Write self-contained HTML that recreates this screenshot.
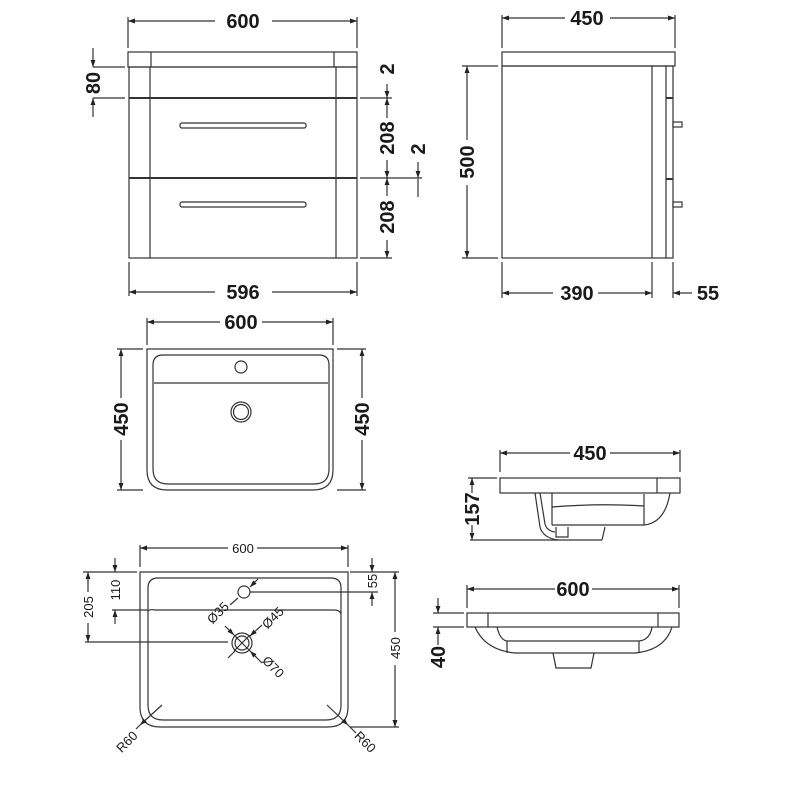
<!DOCTYPE html>
<html><head><meta charset="utf-8"><style>
html,body{margin:0;padding:0;background:#fff;}
svg{display:block;}
text{font-family:"Liberation Sans",Arial,sans-serif;fill:#1a1a1a;}
.b{font-weight:bold;font-size:20px;}
.s{font-size:13px;}
</style></head><body>
<svg width="800" height="800" viewBox="0 0 800 800" xmlns="http://www.w3.org/2000/svg">
<defs>
<marker id="a" viewBox="0 0 10 10" refX="10" refY="5" markerWidth="7" markerHeight="7" orient="auto-start-reverse" markerUnits="userSpaceOnUse"><path d="M0,1.5 L10,5 L0,8.5 z" fill="#222"/></marker>
</defs>
<g stroke="#333" stroke-width="1.2" fill="none">
<!-- ===== TOP FRONT CABINET ===== -->
<rect x="128" y="52" width="229" height="15"/>
<line x1="151" y1="52" x2="151" y2="67"/><line x1="334" y1="52" x2="334" y2="67"/>
<rect x="129" y="67" width="228" height="191"/>
<line x1="150" y1="67" x2="150" y2="258"/><line x1="336" y1="67" x2="336" y2="258"/>
<line x1="129" y1="98" x2="357" y2="98" stroke-width="2"/>
<line x1="129" y1="178" x2="357" y2="178" stroke-width="2"/>
<rect x="180" y="123" width="126" height="5" rx="2"/>
<rect x="180" y="202" width="126" height="5" rx="2"/>
<!-- 600 -->
<line x1="128" y1="17" x2="128" y2="48"/><line x1="357" y1="17" x2="357" y2="48"/>
<line x1="128" y1="21" x2="215" y2="21" marker-start="url(#a)"/>
<line x1="272" y1="21" x2="357" y2="21" marker-end="url(#a)"/>
<!-- 596 -->
<line x1="129" y1="262" x2="129" y2="296"/><line x1="357" y1="262" x2="357" y2="296"/>
<line x1="129" y1="292" x2="215" y2="292" marker-start="url(#a)"/>
<line x1="272" y1="292" x2="357" y2="292" marker-end="url(#a)"/>
<!-- 80 -->
<line x1="93" y1="67" x2="125" y2="67"/><line x1="93" y1="98" x2="125" y2="98"/>
<line x1="93" y1="48" x2="93" y2="67" marker-end="url(#a)"/>
<line x1="93" y1="117" x2="93" y2="98" marker-end="url(#a)"/>
<!-- right dims -->
<line x1="360" y1="98" x2="392" y2="98"/><line x1="360" y1="178" x2="422" y2="178"/><line x1="360" y1="258" x2="392" y2="258"/>
<line x1="387" y1="84" x2="387" y2="98" marker-end="url(#a)"/>
<line x1="387" y1="98" x2="387" y2="118" marker-start="url(#a)"/>
<line x1="387" y1="160" x2="387" y2="178" marker-end="url(#a)"/>
<line x1="387" y1="178" x2="387" y2="196" marker-start="url(#a)"/>
<line x1="387" y1="240" x2="387" y2="258" marker-end="url(#a)"/>
<line x1="418" y1="162" x2="418" y2="178" marker-end="url(#a)"/>
<line x1="418" y1="197" x2="418" y2="179"/>
<!-- ===== TOP SIDE CABINET ===== -->
<rect x="502" y="52" width="173" height="14"/>
<rect x="502" y="66" width="171" height="192"/>
<line x1="652" y1="66" x2="652" y2="258"/><line x1="666" y1="66" x2="666" y2="258"/>
<line x1="666" y1="98" x2="673" y2="98" stroke-width="2"/><line x1="666" y1="179" x2="673" y2="179" stroke-width="2"/>
<rect x="673" y="122" width="9" height="5"/><rect x="673" y="202" width="9" height="5"/>
<line x1="502" y1="15" x2="502" y2="48"/><line x1="675" y1="15" x2="675" y2="48"/>
<line x1="502" y1="18" x2="565" y2="18" marker-start="url(#a)"/>
<line x1="610" y1="18" x2="675" y2="18" marker-end="url(#a)"/>
<line x1="462" y1="66" x2="498" y2="66"/><line x1="462" y1="258" x2="498" y2="258"/>
<line x1="467" y1="66" x2="467" y2="140" marker-start="url(#a)"/>
<line x1="467" y1="185" x2="467" y2="258" marker-end="url(#a)"/>
<line x1="502" y1="262" x2="502" y2="298"/><line x1="652" y1="262" x2="652" y2="298"/><line x1="673" y1="262" x2="673" y2="298"/>
<line x1="502" y1="293" x2="553" y2="293" marker-start="url(#a)"/>
<line x1="598" y1="293" x2="652" y2="293" marker-end="url(#a)"/>
<line x1="692" y1="293" x2="673" y2="293" marker-end="url(#a)"/>
<!-- ===== MIDDLE BASIN TOP VIEW ===== -->
<path d="M147,349 H333 V470 Q333,490 313,490 H167 Q147,490 147,470 Z"/>
<path d="M163,355 H319 Q329,355 329,365 V469 Q329,484 314,484 H168 Q153,484 153,469 V365 Q153,355 163,355 Z"/>
<line x1="154" y1="383" x2="328" y2="383"/>
<circle cx="241" cy="367" r="6"/>
<circle cx="241" cy="412" r="10"/><circle cx="241" cy="412" r="7.5"/>
<line x1="147" y1="318" x2="147" y2="345"/><line x1="333" y1="318" x2="333" y2="345"/>
<line x1="147" y1="322" x2="220" y2="322" marker-start="url(#a)"/>
<line x1="262" y1="322" x2="333" y2="322" marker-end="url(#a)"/>
<line x1="117" y1="349" x2="143" y2="349"/><line x1="117" y1="490" x2="143" y2="490"/>
<line x1="121" y1="349" x2="121" y2="398" marker-start="url(#a)"/>
<line x1="121" y1="440" x2="121" y2="490" marker-end="url(#a)"/>
<line x1="337" y1="349" x2="366" y2="349"/><line x1="337" y1="490" x2="366" y2="490"/>
<line x1="362" y1="349" x2="362" y2="398" marker-start="url(#a)"/>
<line x1="362" y1="440" x2="362" y2="490" marker-end="url(#a)"/>
<!-- ===== SIDE PROFILE 450 ===== -->
<rect x="500" y="478" width="180" height="15"/>
<line x1="657" y1="478" x2="657" y2="493"/>
<path d="M535,493 L540,527 Q543,538 558,540"/>
<path d="M540,493 L545,524 Q547,531 555,532"/>
<line x1="552" y1="493" x2="552" y2="525"/>
<path d="M552,525 H644 Q665,523 670,493"/>
<line x1="644" y1="494" x2="644" y2="525"/>
<path d="M552,507 Q600,503 644,506"/>
<path d="M556,527 V537 H568 V527"/>
<path d="M605,527 L602,540"/>
<line x1="500" y1="450" x2="500" y2="472"/><line x1="680" y1="450" x2="680" y2="472"/>
<line x1="500" y1="453" x2="570" y2="453" marker-start="url(#a)"/>
<line x1="610" y1="453" x2="680" y2="453" marker-end="url(#a)"/>
<line x1="468" y1="478" x2="497" y2="478"/><line x1="470" y1="540" x2="602" y2="540"/>
<line x1="472" y1="478" x2="472" y2="493" marker-start="url(#a)"/>
<line x1="472" y1="525" x2="472" y2="540" marker-end="url(#a)"/>
<!-- ===== FRONT PROFILE 600 ===== -->
<rect x="467" y="613" width="212" height="14"/>
<line x1="488" y1="613" x2="488" y2="627"/><line x1="658" y1="613" x2="658" y2="627"/>
<path d="M475,627 Q485,650 515,653 H635 Q665,650 672,627"/>
<path d="M497,627 Q500,640 507,641 H639 Q650,640 652,627"/>
<line x1="507" y1="641" x2="507" y2="653"/><line x1="639" y1="641" x2="639" y2="653"/>
<path d="M553,653 L556,668 H591 L594,653"/>
<line x1="467" y1="585" x2="467" y2="608"/><line x1="679" y1="585" x2="679" y2="608"/>
<line x1="467" y1="589" x2="555" y2="589" marker-start="url(#a)"/>
<line x1="592" y1="589" x2="679" y2="589" marker-end="url(#a)"/>
<line x1="433" y1="613" x2="464" y2="613"/><line x1="433" y1="627" x2="464" y2="627"/>
<line x1="438" y1="598" x2="438" y2="613" marker-end="url(#a)"/>
<line x1="438" y1="645" x2="438" y2="627" marker-end="url(#a)"/>
<!-- ===== BOTTOM BASIN DETAIL ===== -->
<path d="M140,572 H348 V707 Q348,727 328,727 H160 Q140,727 140,707 Z"/>
<path d="M158,578 H331 Q341,578 341,588 V705 Q341,720 326,720 H163 Q148,720 148,705 V588 Q148,578 158,578 Z"/>
<path d="M148,611 Q150,609 155,610 H334 Q340,610 341,614"/>
<circle cx="244" cy="592" r="6"/>
<circle cx="242" cy="643" r="10"/><circle cx="242" cy="643" r="7"/>
<line x1="234" y1="635" x2="250" y2="651"/><line x1="250" y1="635" x2="234" y2="651"/>
<line x1="225" y1="626" x2="234" y2="635" marker-end="url(#a)"/>
<line x1="262" y1="663" x2="250" y2="651" marker-end="url(#a)"/>
<line x1="262" y1="625" x2="250" y2="636" marker-end="url(#a)"/>
<line x1="228" y1="658" x2="235" y2="651"/>
<line x1="258" y1="579" x2="250" y2="587" marker-end="url(#a)"/>
<line x1="238" y1="598" x2="230" y2="605"/>
<line x1="140" y1="545" x2="140" y2="567"/><line x1="348" y1="545" x2="348" y2="567"/>
<line x1="140" y1="548" x2="228" y2="548" marker-start="url(#a)"/>
<line x1="257" y1="548" x2="348" y2="548" marker-end="url(#a)"/>
<line x1="83" y1="572" x2="137" y2="572"/><line x1="85" y1="642" x2="228" y2="642"/>
<line x1="112" y1="610" x2="148" y2="610"/>
<line x1="88" y1="572" x2="88" y2="592" marker-start="url(#a)"/>
<line x1="88" y1="623" x2="88" y2="642" marker-end="url(#a)"/>
<line x1="115" y1="558" x2="115" y2="572" marker-end="url(#a)"/>
<line x1="115" y1="624" x2="115" y2="610" marker-end="url(#a)"/>
<line x1="250" y1="592" x2="378" y2="592"/><line x1="350" y1="572" x2="399" y2="572"/><line x1="350" y1="727" x2="399" y2="727"/>
<line x1="372" y1="558" x2="372" y2="572" marker-end="url(#a)"/>
<line x1="372" y1="606" x2="372" y2="592" marker-end="url(#a)"/>
<line x1="395" y1="572" x2="395" y2="632" marker-start="url(#a)"/>
<line x1="395" y1="665" x2="395" y2="727" marker-end="url(#a)"/>
<line x1="162" y1="705" x2="140" y2="725" marker-end="url(#a)"/>
<line x1="140" y1="725" x2="136" y2="729"/>
<line x1="327" y1="705" x2="348" y2="725" marker-end="url(#a)"/>
<line x1="348" y1="725" x2="356" y2="733"/>
</g>
<!-- TEXT -->
<text class="b" x="243" y="28" text-anchor="middle">600</text>
<text class="b" x="243" y="299" text-anchor="middle">596</text>
<text class="b" transform="translate(100,83) rotate(-90)" text-anchor="middle">80</text>
<text class="b" transform="translate(394,69) rotate(-90)" text-anchor="middle">2</text>
<text class="b" transform="translate(394,138) rotate(-90)" text-anchor="middle">208</text>
<text class="b" transform="translate(394,217) rotate(-90)" text-anchor="middle">208</text>
<text class="b" transform="translate(425,149) rotate(-90)" text-anchor="middle">2</text>
<text class="b" x="587" y="25" text-anchor="middle">450</text>
<text class="b" transform="translate(474,162) rotate(-90)" text-anchor="middle">500</text>
<text class="b" x="577" y="300" text-anchor="middle">390</text>
<text class="b" x="708" y="300" text-anchor="middle">55</text>
<text class="b" x="241" y="329" text-anchor="middle">600</text>
<text class="b" transform="translate(128,419) rotate(-90)" text-anchor="middle">450</text>
<text class="b" transform="translate(369,419) rotate(-90)" text-anchor="middle">450</text>
<text class="b" x="590" y="460" text-anchor="middle">450</text>
<text class="b" transform="translate(479,509) rotate(-90)" text-anchor="middle">157</text>
<text class="b" x="573" y="596" text-anchor="middle">600</text>
<text class="b" transform="translate(445,657) rotate(-90)" text-anchor="middle">40</text>
<text class="s" x="243" y="553" text-anchor="middle">600</text>
<text class="s" transform="translate(93,607) rotate(-90)" text-anchor="middle">205</text>
<text class="s" transform="translate(120,590) rotate(-90)" text-anchor="middle">110</text>
<text class="s" transform="translate(377,581) rotate(-90)" text-anchor="middle">55</text>
<text class="s" transform="translate(400,648) rotate(-90)" text-anchor="middle">450</text>
<text class="s" transform="translate(221,616) rotate(-45)" text-anchor="middle">Ø35</text>
<text class="s" transform="translate(276,621) rotate(-45)" text-anchor="middle">Ø45</text>
<text class="s" transform="translate(270,670) rotate(45)" text-anchor="middle">Ø70</text>
<text class="s" transform="translate(130,745) rotate(-45)" text-anchor="middle">R60</text>
<text class="s" transform="translate(362,745) rotate(45)" text-anchor="middle">R60</text>
</svg>
</body></html>
